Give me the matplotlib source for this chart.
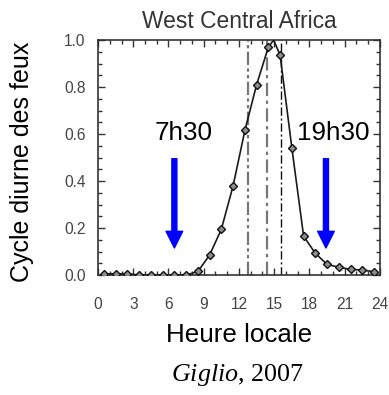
import matplotlib
matplotlib.use("Agg")
import matplotlib.pyplot as plt
from matplotlib.ticker import MultipleLocator

'''fire diurnal cycle, read from Giglio 2007 figure'''
hours = [0.5, 1.5, 2.5, 3.5, 4.5, 5.5, 6.5, 7.5, 8.5, 9.5, 10.5, 11.5,
         12.5, 13.5, 14.5, 15.5, 16.5, 17.5, 18.5, 19.5, 20.5, 21.5, 22.5, 23.5]
cycle = [0.005, 0.005, 0.005, 0.0, 0.0, 0.0, 0.0, 0.0, 0.015, 0.085, 0.195, 0.38,
         0.615, 0.81, 0.97, 0.935, 0.54, 0.165, 0.092, 0.045, 0.033, 0.024, 0.021, 0.014]
# curve goes a bit above the markers near the peak
peak_hour = 14.95
peak_value = 1.0

vlines = [12.8, 14.4, 15.6]
arrow_hours = [6.5, 19.4]
arrow_labels = ['7h30', '19h30']
label_hours = [7.3, 20.05]

plt.rcParams['font.family'] = ['Liberation Sans', 'DejaVu Sans']
plt.rcParams['mathtext.fontset'] = 'custom'
plt.rcParams['mathtext.it'] = 'Liberation Serif:italic'
plt.rcParams['mathtext.rm'] = 'Liberation Serif'

fig = plt.figure(figsize=(3.89, 3.95), dpi=100)
ax = fig.add_axes([98/389, 1-275/395, 282/389, 235/395])

line_x = hours[:15] + [peak_hour] + hours[15:]
line_y = cycle[:15] + [peak_value] + cycle[15:]
ax.plot(line_x, line_y, color='#1a1a1a', lw=1.2, zorder=3)
ax.plot(hours, cycle, ls='none', marker='D', ms=4.5, mfc='#8c8c8c', mec='#111111', mew=1.0, zorder=4)

ax.axvline(vlines[0], color='#777777', lw=1.6, ls=(0, (6, 1.5, 1.5, 1.5, 1.5, 1.5)), zorder=2)
ax.axvline(vlines[1], color='#777777', lw=1.6, ls=(0, (6, 2, 1.5, 2)), zorder=2)
ax.axvline(vlines[2], color='#111111', lw=1.0, ls=(0, (6, 2, 1.5, 2)), zorder=2)

for h, lab, lh in zip(arrow_hours, arrow_labels, label_hours):
    ax.annotate('', xy=(h, 0.115), xytext=(h, 0.495),
                arrowprops=dict(arrowstyle='simple,head_length=1,head_width=1,tail_width=0.3',
                                color='blue', shrinkA=0, shrinkB=0, mutation_scale=12))
    ax.text(lh, 0.603, lab, ha='center', va='center', fontsize=18.7, color='black')

ax.set_xlim(0, 24)
ax.set_ylim(0, 1.0)
ax.xaxis.set_major_locator(MultipleLocator(3))
ax.xaxis.set_minor_locator(MultipleLocator(1))
ax.yaxis.set_major_locator(MultipleLocator(0.2))
ax.yaxis.set_minor_locator(MultipleLocator(0.05))
ax.yaxis.set_major_formatter(matplotlib.ticker.FormatStrFormatter('%.1f'))
ax.tick_params(which='both', direction='in', top=True, right=True, color='#333333', width=1.0)
ax.tick_params(which='major', length=5)
ax.tick_params(which='minor', length=3)
ax.tick_params(axis='x', which='major', pad=16, labelsize=11.2, labelcolor='#444444')
ax.tick_params(axis='y', which='major', pad=9, labelsize=11.2, labelcolor='#444444')
for s in ax.spines.values():
    s.set_color('#333333')
    s.set_linewidth(1.2)

ax.set_title('West Central Africa', fontsize=16.4, color='#333333', pad=9)
ax.set_xlabel('Heure locale', fontsize=18.7)
ax.xaxis.set_label_coords(0.5, -(335-275)/235)
ax.xaxis.label.set_va('center')
ax.set_ylabel('Cycle diurne des feux', fontsize=18)
ax.yaxis.set_label_coords(-(98-22)/282, 0.48)
ax.yaxis.label.set_va('center')

fig.text(237/389, 1-375/395, r'$\mathit{Giglio}$, 2007', ha='center', va='center',
         fontsize=18.7, family='Liberation Serif')

fig.savefig('out.png', dpi=100)
